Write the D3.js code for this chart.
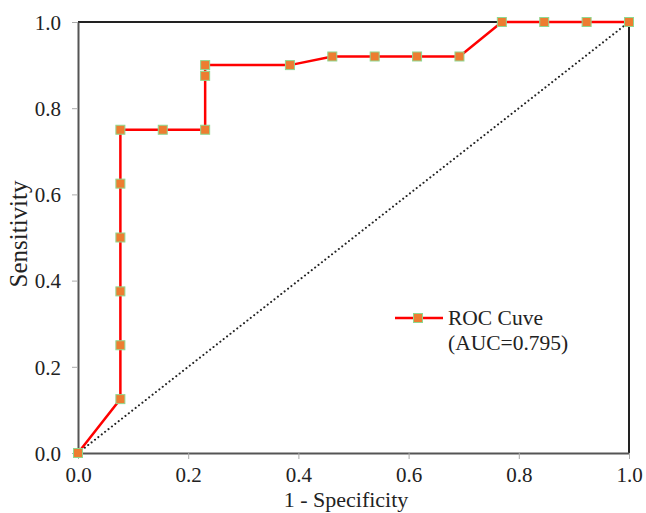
<!DOCTYPE html>
<html><head><meta charset="utf-8">
<script src="https://cdn.jsdelivr.net/npm/d3@7"></script>
<style>body{margin:0;background:#fff}svg{display:block}</style>
</head><body><svg id="c" width="646" height="513"></svg>
<script>
const fpr = [0, 1/13, 1/13, 1/13, 1/13, 1/13, 1/13, 2/13, 3/13, 3/13, 3/13, 5/13, 6/13, 7/13, 8/13, 9/13, 10/13, 11/13, 12/13, 1];
const tpr = [0, 0.125, 0.25, 0.375, 0.5, 0.625, 0.75, 0.75, 0.75, 0.875, 0.9, 0.9, 0.92, 0.92, 0.92, 0.92, 1, 1, 1, 1];
const xTicks = [0, 0.2, 0.4, 0.6, 0.8, 1.0];
const yTicks = [0, 0.2, 0.4, 0.6, 0.8, 1.0];
const legendLines = ["ROC Cuve", "(AUC=0.795)"];

const FONT = "'Liberation Serif', 'Times New Roman', serif";
const L = 78, R = 629, T = 22, B = 453;
const svg = d3.select("#c");
const x = d3.scaleLinear().domain([0,1]).range([L,R]);
const y = d3.scaleLinear().domain([0,1]).range([B,T]);

// frame top/right
svg.append("line").attr("x1",L).attr("x2",R+1).attr("y1",T).attr("y2",T).attr("stroke","#222").attr("stroke-width",2);
svg.append("line").attr("x1",R).attr("x2",R).attr("y1",T).attr("y2",B).attr("stroke","#222").attr("stroke-width",2);

const xa = svg.append("g").attr("transform",`translate(0,${B})`)
  .call(d3.axisBottom(x).tickValues(xTicks).tickFormat(d3.format(".1f")).tickSize(6).tickSizeOuter(0).tickPadding(8));
const ya = svg.append("g").attr("transform",`translate(${L},0)`)
  .call(d3.axisLeft(y).tickValues(yTicks).tickFormat(d3.format(".1f")).tickSize(6).tickSizeOuter(0).tickPadding(11));
[xa,ya].forEach(a=>{
  a.attr("font-family",null).attr("font-size",null);
  a.select(".domain").attr("stroke","#555").attr("stroke-width",2);
  a.selectAll(".tick line").attr("stroke","#aaa").attr("stroke-width",1);
  a.selectAll(".tick text").style("font-size","21px").style("font-family",FONT).attr("fill","#222");
});
ya.selectAll(".tick text").attr("dy","0.35em");
xa.selectAll(".tick text").attr("dy","0.7em");

// diagonal
svg.append("line").attr("x1",x(0)).attr("y1",y(0)).attr("x2",x(1)).attr("y2",y(1))
  .attr("stroke","#222").attr("stroke-width",2).attr("stroke-dasharray","0.1 4.2").attr("stroke-linecap","round");

const pts = fpr.map((f,i)=>[f,tpr[i]]);
svg.append("path").datum(pts).attr("fill","none").attr("stroke","#ff0000").attr("stroke-width",2.5)
  .attr("d",d3.line().x(d=>x(d[0])).y(d=>y(d[1])));
const ms = 9;
svg.append("g").selectAll("rect").data(pts).join("rect")
  .attr("x",d=>x(d[0])-ms/2).attr("y",d=>y(d[1])-ms/2).attr("width",ms).attr("height",ms)
  .attr("fill","#ed7d31").attr("stroke","#8fd88f").attr("stroke-width",1);

// legend
const lx = 395, ly = 318;
svg.append("line").attr("x1",lx).attr("x2",lx+48).attr("y1",ly).attr("y2",ly).attr("stroke","#ff0000").attr("stroke-width",2.5);
svg.append("rect").attr("x",lx+23-ms/2).attr("y",ly-ms/2).attr("width",ms).attr("height",ms)
  .attr("fill","#ed7d31").attr("stroke","#8fd88f").attr("stroke-width",1);
legendLines.forEach((t,i)=>svg.append("text").attr("x",lx+53).attr("y",325+i*25)
  .style("font-size","21.5px").style("font-family",FONT).attr("fill","#222").text(t));

svg.append("text").attr("x",346).attr("y",507).attr("text-anchor","middle")
  .style("font-size","22px").style("font-family",FONT).attr("fill","#222").text("1 - Specificity");
svg.append("text").attr("transform",`translate(27,234) rotate(-90)`).attr("text-anchor","middle")
  .style("font-size","25px").style("font-family",FONT).attr("fill","#222").text("Sensitivity");
</script></body></html>
